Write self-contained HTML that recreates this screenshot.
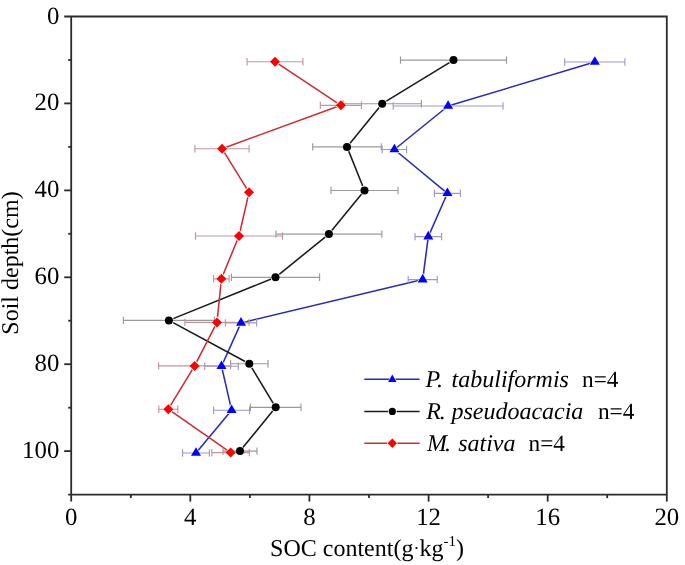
<!DOCTYPE html>
<html><head><meta charset="utf-8"><style>
html,body{margin:0;padding:0;background:#fff;}
svg{display:block;will-change:transform;}
text{font-family:"Liberation Serif", serif;text-rendering:geometricPrecision;}
</style></head><body>
<svg width="685" height="565" viewBox="0 0 685 565">
<rect width="685" height="565" fill="#fff"/>
<g stroke="#2b2b2b" stroke-width="1.8" fill="none">
<path d="M64.2 16.5H666.8V494.6H68.2M71.2 16.5V501.6"/>
<path d="M68.2 60.0H71.2"/>
<path d="M64.2 103.4H71.2"/>
<path d="M68.2 146.9H71.2"/>
<path d="M64.2 190.4H71.2"/>
<path d="M68.2 233.8H71.2"/>
<path d="M64.2 277.3H71.2"/>
<path d="M68.2 320.7H71.2"/>
<path d="M64.2 364.2H71.2"/>
<path d="M68.2 407.7H71.2"/>
<path d="M64.2 451.1H71.2"/>
<path d="M130.8 494.6V498.1"/>
<path d="M190.3 494.6V501.6"/>
<path d="M249.9 494.6V498.1"/>
<path d="M309.4 494.6V501.6"/>
<path d="M369.0 494.6V498.1"/>
<path d="M428.6 494.6V501.6"/>
<path d="M488.1 494.6V498.1"/>
<path d="M547.7 494.6V501.6"/>
<path d="M607.2 494.6V498.1"/>
<path d="M666.8 494.6V501.6"/>
</g>
<g font-size="24" fill="#000">
<text x="59.3" y="23.5" text-anchor="end" font-size="24.8">0</text>
<text x="59.3" y="110.4" text-anchor="end" font-size="24.8">20</text>
<text x="59.3" y="197.4" text-anchor="end" font-size="24.8">40</text>
<text x="59.3" y="284.3" text-anchor="end" font-size="24.8">60</text>
<text x="59.3" y="371.2" text-anchor="end" font-size="24.8">80</text>
<text x="59.3" y="458.1" text-anchor="end" font-size="24.8">100</text>
<text x="71.2" y="525.0" text-anchor="middle" font-size="24.8">0</text>
<text x="190.3" y="525.0" text-anchor="middle" font-size="24.8">4</text>
<text x="309.4" y="525.0" text-anchor="middle" font-size="24.8">8</text>
<text x="428.6" y="525.0" text-anchor="middle" font-size="24.8">12</text>
<text x="547.7" y="525.0" text-anchor="middle" font-size="24.8">16</text>
<text x="666.8" y="525.0" text-anchor="middle" font-size="24.8">20</text>
<text x="367" y="555.5" text-anchor="middle">SOC content(g<tspan font-size="18" dy="-1.5">·</tspan><tspan dy="1.5">kg</tspan><tspan font-size="15" dy="-10">-1</tspan><tspan dy="10">)</tspan></text>
<text transform="translate(17.9,263.0) rotate(-90)" text-anchor="middle">Soil depth(cm)</text>
</g>
<polyline points="594.8,62.0 448.1,106.0 394.4,149.5 447.4,193.3 428.3,236.6 422.7,279.6 241.0,322.9 221.5,366.2 231.6,410.2 196.0,453.0" fill="none" stroke="#2a2ab8" stroke-width="1.55" stroke-linejoin="round"/>
<polyline points="453.5,60.1 382.2,103.7 347.0,146.9 364.5,190.5 328.9,234.1 275.5,277.3 168.9,320.4 249.3,363.7 275.7,407.3 240.0,451.1" fill="none" stroke="#1a1a1a" stroke-width="1.55" stroke-linejoin="round"/>
<polyline points="275.0,61.7 340.9,105.3 222.0,148.7 249.0,192.3 239.0,236.0 221.4,278.8 217.0,322.4 194.6,365.9 168.3,409.2 230.6,452.6" fill="none" stroke="#cc2d36" stroke-width="1.55" stroke-linejoin="round"/>
<path d="M594.8 54.9L600.9 65.5L588.7 65.5Z" fill="#fff"/>
<path d="M448.1 98.9L454.2 109.5L442.0 109.5Z" fill="#fff"/>
<path d="M394.4 142.4L400.5 153.0L388.3 153.0Z" fill="#fff"/>
<path d="M447.4 186.2L453.5 196.8L441.3 196.8Z" fill="#fff"/>
<path d="M428.3 229.5L434.4 240.1L422.2 240.1Z" fill="#fff"/>
<path d="M422.7 272.5L428.8 283.1L416.6 283.1Z" fill="#fff"/>
<path d="M241.0 315.8L247.1 326.4L234.9 326.4Z" fill="#fff"/>
<path d="M221.5 359.1L227.6 369.7L215.4 369.7Z" fill="#fff"/>
<path d="M231.6 403.1L237.7 413.7L225.5 413.7Z" fill="#fff"/>
<path d="M196.0 445.9L202.1 456.5L189.9 456.5Z" fill="#fff"/>
<circle cx="453.5" cy="60.1" r="4.9" fill="#fff"/>
<circle cx="382.2" cy="103.7" r="4.9" fill="#fff"/>
<circle cx="347.0" cy="146.9" r="4.9" fill="#fff"/>
<circle cx="364.5" cy="190.5" r="4.9" fill="#fff"/>
<circle cx="328.9" cy="234.1" r="4.9" fill="#fff"/>
<circle cx="275.5" cy="277.3" r="4.9" fill="#fff"/>
<circle cx="168.9" cy="320.4" r="4.9" fill="#fff"/>
<circle cx="249.3" cy="363.7" r="4.9" fill="#fff"/>
<circle cx="275.7" cy="407.3" r="4.9" fill="#fff"/>
<circle cx="240.0" cy="451.1" r="4.9" fill="#fff"/>
<path d="M275.0 55.5L281.2 61.7L275.0 67.9L268.8 61.7Z" fill="#fff"/>
<path d="M340.9 99.1L347.1 105.3L340.9 111.5L334.7 105.3Z" fill="#fff"/>
<path d="M222.0 142.5L228.2 148.7L222.0 154.9L215.8 148.7Z" fill="#fff"/>
<path d="M249.0 186.1L255.2 192.3L249.0 198.5L242.8 192.3Z" fill="#fff"/>
<path d="M239.0 229.8L245.2 236.0L239.0 242.2L232.8 236.0Z" fill="#fff"/>
<path d="M221.4 272.6L227.6 278.8L221.4 285.0L215.2 278.8Z" fill="#fff"/>
<path d="M217.0 316.2L223.2 322.4L217.0 328.6L210.8 322.4Z" fill="#fff"/>
<path d="M194.6 359.7L200.8 365.9L194.6 372.1L188.4 365.9Z" fill="#fff"/>
<path d="M168.3 403.0L174.5 409.2L168.3 415.4L162.1 409.2Z" fill="#fff"/>
<path d="M230.6 446.4L236.8 452.6L230.6 458.8L224.4 452.6Z" fill="#fff"/>
<path d="M564.7 62.0H624.9M564.7 58.3V65.7M624.9 58.3V65.7" stroke="#9c9ac6" stroke-width="1.15" fill="none"/>
<path d="M393.2 106.0H503.0M393.2 102.3V109.7M503.0 102.3V109.7" stroke="#9c9ac6" stroke-width="1.15" fill="none"/>
<path d="M382.2 149.5H406.6M382.2 145.8V153.2M406.6 145.8V153.2" stroke="#9c9ac6" stroke-width="1.15" fill="none"/>
<path d="M434.4 193.3H460.4M434.4 189.6V197.0M460.4 189.6V197.0" stroke="#9c9ac6" stroke-width="1.15" fill="none"/>
<path d="M415.0 236.6H441.6M415.0 232.9V240.3M441.6 232.9V240.3" stroke="#9c9ac6" stroke-width="1.15" fill="none"/>
<path d="M408.2 279.6H437.2M408.2 275.9V283.3M437.2 275.9V283.3" stroke="#9c9ac6" stroke-width="1.15" fill="none"/>
<path d="M225.4 322.9H256.6M225.4 319.2V326.6M256.6 319.2V326.6" stroke="#9c9ac6" stroke-width="1.15" fill="none"/>
<path d="M204.7 366.2H238.3M204.7 362.5V369.9M238.3 362.5V369.9" stroke="#9c9ac6" stroke-width="1.15" fill="none"/>
<path d="M213.6 410.2H249.6M213.6 406.5V413.9M249.6 406.5V413.9" stroke="#9c9ac6" stroke-width="1.15" fill="none"/>
<path d="M182.6 453.0H209.4M182.6 449.3V456.7M209.4 449.3V456.7" stroke="#9c9ac6" stroke-width="1.15" fill="none"/>
<path d="M400.5 60.1H506.5M400.5 56.4V63.8M506.5 56.4V63.8" stroke="#9a9a9a" stroke-width="1.15" fill="none"/>
<path d="M343.0 103.7H421.4M343.0 100.0V107.4M421.4 100.0V107.4" stroke="#9a9a9a" stroke-width="1.15" fill="none"/>
<path d="M312.7 146.9H381.3M312.7 143.2V150.6M381.3 143.2V150.6" stroke="#9a9a9a" stroke-width="1.15" fill="none"/>
<path d="M331.0 190.5H398.0M331.0 186.8V194.2M398.0 186.8V194.2" stroke="#9a9a9a" stroke-width="1.15" fill="none"/>
<path d="M275.9 234.1H381.9M275.9 230.4V237.8M381.9 230.4V237.8" stroke="#9a9a9a" stroke-width="1.15" fill="none"/>
<path d="M231.4 277.3H319.6M231.4 273.6V281.0M319.6 273.6V281.0" stroke="#9a9a9a" stroke-width="1.15" fill="none"/>
<path d="M123.4 320.4H214.4M123.4 316.7V324.1M214.4 316.7V324.1" stroke="#9a9a9a" stroke-width="1.15" fill="none"/>
<path d="M230.6 363.7H268.0M230.6 360.0V367.4M268.0 360.0V367.4" stroke="#9a9a9a" stroke-width="1.15" fill="none"/>
<path d="M250.4 407.3H301.0M250.4 403.6V411.0M301.0 403.6V411.0" stroke="#9a9a9a" stroke-width="1.15" fill="none"/>
<path d="M223.0 451.1H257.0M223.0 447.4V454.8M257.0 447.4V454.8" stroke="#9a9a9a" stroke-width="1.15" fill="none"/>
<path d="M247.1 61.7H302.9M247.1 58.0V65.4M302.9 58.0V65.4" stroke="#c0969d" stroke-width="1.15" fill="none"/>
<path d="M320.3 105.3H361.5M320.3 101.6V109.0M361.5 101.6V109.0" stroke="#c0969d" stroke-width="1.15" fill="none"/>
<path d="M194.9 148.7H249.1M194.9 145.0V152.4M249.1 145.0V152.4" stroke="#c0969d" stroke-width="1.15" fill="none"/>
<path d="M195.5 236.0H282.5M195.5 232.3V239.7M282.5 232.3V239.7" stroke="#c0969d" stroke-width="1.15" fill="none"/>
<path d="M213.6 278.8H229.2M213.6 275.1V282.5M229.2 275.1V282.5" stroke="#c0969d" stroke-width="1.15" fill="none"/>
<path d="M184.9 322.4H249.1M184.9 318.7V326.1M249.1 318.7V326.1" stroke="#c0969d" stroke-width="1.15" fill="none"/>
<path d="M158.6 365.9H230.6M158.6 362.2V369.6M230.6 362.2V369.6" stroke="#c0969d" stroke-width="1.15" fill="none"/>
<path d="M158.8 409.2H177.8M158.8 405.5V412.9M177.8 405.5V412.9" stroke="#c0969d" stroke-width="1.15" fill="none"/>
<path d="M211.8 452.6H249.4M211.8 448.9V456.3M249.4 448.9V456.3" stroke="#c0969d" stroke-width="1.15" fill="none"/>
<path d="M594.8 56.2L599.8 64.8L589.8 64.8Z" fill="#0000ff"/>
<path d="M448.1 100.2L453.1 108.8L443.1 108.8Z" fill="#0000ff"/>
<path d="M394.4 143.7L399.4 152.3L389.4 152.3Z" fill="#0000ff"/>
<path d="M447.4 187.5L452.4 196.1L442.4 196.1Z" fill="#0000ff"/>
<path d="M428.3 230.8L433.3 239.4L423.3 239.4Z" fill="#0000ff"/>
<path d="M422.7 273.8L427.7 282.4L417.7 282.4Z" fill="#0000ff"/>
<path d="M241.0 317.1L246.0 325.7L236.0 325.7Z" fill="#0000ff"/>
<path d="M221.5 360.4L226.5 369.0L216.5 369.0Z" fill="#0000ff"/>
<path d="M231.6 404.4L236.6 413.0L226.6 413.0Z" fill="#0000ff"/>
<path d="M196.0 447.2L201.0 455.8L191.0 455.8Z" fill="#0000ff"/>
<circle cx="453.5" cy="60.1" r="4.0" fill="#000"/>
<circle cx="382.2" cy="103.7" r="4.0" fill="#000"/>
<circle cx="347.0" cy="146.9" r="4.0" fill="#000"/>
<circle cx="364.5" cy="190.5" r="4.0" fill="#000"/>
<circle cx="328.9" cy="234.1" r="4.0" fill="#000"/>
<circle cx="275.5" cy="277.3" r="4.0" fill="#000"/>
<circle cx="168.9" cy="320.4" r="4.0" fill="#000"/>
<circle cx="249.3" cy="363.7" r="4.0" fill="#000"/>
<circle cx="275.7" cy="407.3" r="4.0" fill="#000"/>
<circle cx="240.0" cy="451.1" r="4.0" fill="#000"/>
<path d="M275.0 56.7L280.0 61.7L275.0 66.7L270.0 61.7Z" fill="#ff0000"/>
<path d="M340.9 100.3L345.9 105.3L340.9 110.3L335.9 105.3Z" fill="#ff0000"/>
<path d="M222.0 143.7L227.0 148.7L222.0 153.7L217.0 148.7Z" fill="#ff0000"/>
<path d="M249.0 187.3L254.0 192.3L249.0 197.3L244.0 192.3Z" fill="#ff0000"/>
<path d="M239.0 231.0L244.0 236.0L239.0 241.0L234.0 236.0Z" fill="#ff0000"/>
<path d="M221.4 273.8L226.4 278.8L221.4 283.8L216.4 278.8Z" fill="#ff0000"/>
<path d="M217.0 317.4L222.0 322.4L217.0 327.4L212.0 322.4Z" fill="#ff0000"/>
<path d="M194.6 360.9L199.6 365.9L194.6 370.9L189.6 365.9Z" fill="#ff0000"/>
<path d="M168.3 404.2L173.3 409.2L168.3 414.2L163.3 409.2Z" fill="#ff0000"/>
<path d="M230.6 447.6L235.6 452.6L230.6 457.6L225.6 452.6Z" fill="#ff0000"/>
<path d="M364.3 379.3H419.6" stroke="#2a2ab8" stroke-width="1.5"/>
<path d="M392.3 373.4L397.6 382.7L387.0 382.7Z" fill="#fff"/>
<path d="M392.3 374.5L396.6 381.9L388.0 381.9Z" fill="#0000ff"/>
<text x="425.4" y="386.6" font-size="24.0" font-style="italic" fill="#000">P<tspan dx="0">.</tspan></text>
<text x="451.6" y="386.6" font-size="24.0" font-style="italic" fill="#000">tabuliformis</text>
<text x="582.0" y="386.6" font-size="23.3" fill="#000">n=4</text>
<path d="M364.3 411.4H419.6" stroke="#1a1a1a" stroke-width="1.5"/>
<circle cx="392.3" cy="411.4" r="4.4" fill="#fff"/>
<circle cx="392.3" cy="411.4" r="3.6" fill="#000"/>
<text x="426.2" y="419.4" font-size="24.0" font-style="italic" fill="#000">R<tspan dx="-1.0">.</tspan></text>
<text x="451.4" y="419.4" font-size="24.0" font-style="italic" fill="#000">pseudoacacia</text>
<text x="597.9" y="419.4" font-size="23.3" fill="#000">n=4</text>
<path d="M364.3 443.2H419.6" stroke="#cc2d36" stroke-width="1.5"/>
<path d="M392.3 437.6L397.9 443.2L392.3 448.8L386.7 443.2Z" fill="#fff"/>
<path d="M392.3 438.5L397.0 443.2L392.3 447.9L387.6 443.2Z" fill="#ff0000"/>
<text x="427.0" y="450.8" font-size="24.0" font-style="italic" fill="#000">M<tspan dx="-2.0">.</tspan></text>
<text x="458.2" y="450.8" font-size="24.0" font-style="italic" fill="#000">sativa</text>
<text x="528.5" y="450.8" font-size="23.3" fill="#000">n=4</text>
</svg>
</body></html>
